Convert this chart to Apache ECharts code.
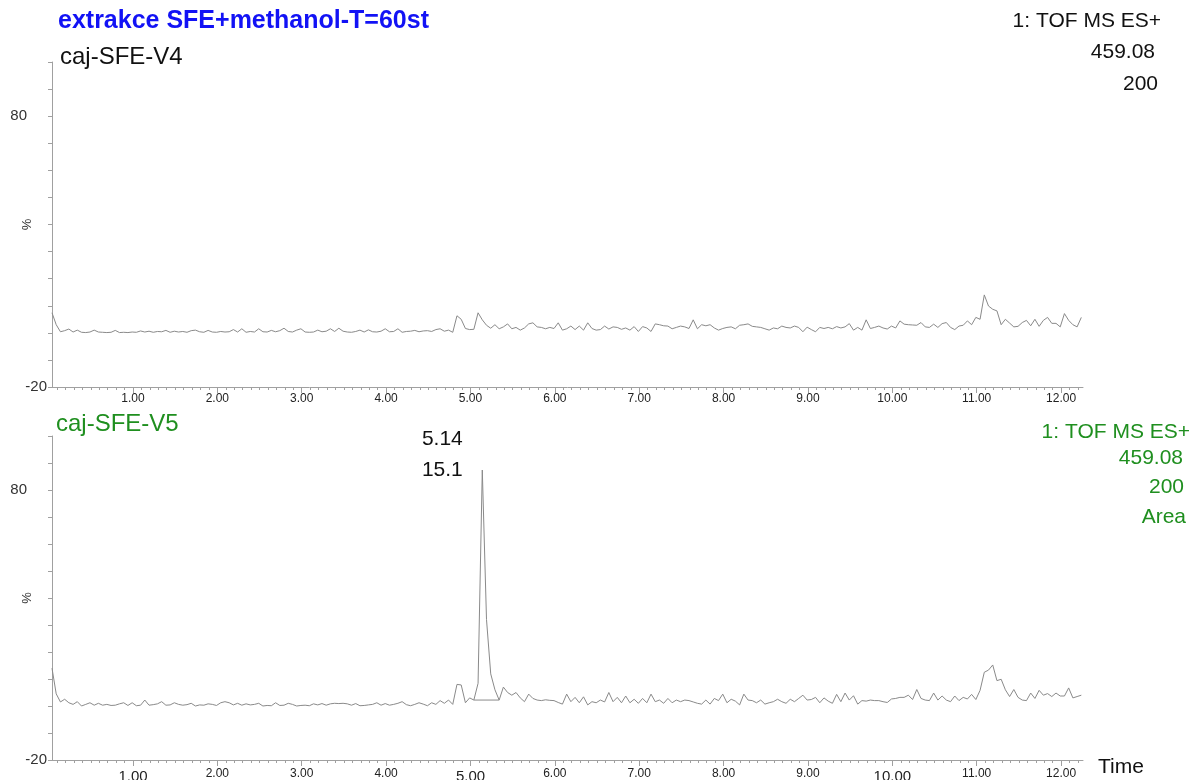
<!DOCTYPE html>
<html>
<head>
<meta charset="utf-8">
<title>extrakce SFE+methanol-T=60st</title>
<script src="https://cdn.jsdelivr.net/npm/echarts/dist/echarts.min.js"></script>
<style>
  html, body { margin: 0; padding: 0; background: #ffffff; }
  #chart { width: 1193px; height: 780px; }
</style>
</head>
<body>
<div id="chart"></div>
<script>
// Scan grid of the extracted ion chromatograms (min)
const scanStart = 0.04;
const scanStep = 0.05;

// caj-SFE-V4, m/z 459.08, relative intensity (%)
const signalV4 = [
  7.4, 3.0, 0.4, 0.8, 1.4, 0.3, 1.0, 0.2, 0.1, 0.3,
  1.0, 0.3, 0.2, 0.1, 0.2, 0.9, 0.1, 0.2, 0.1, 0.3,
  0.2, 0.7, 0.3, 0.6, 0.2, 0.5, 0.4, 0.9, 0.2, 0.6,
  0.3, 0.5, 0.2, 0.8, 1.0, 0.4, 0.2, 0.9, 0.3, 0.2,
  0.5, 0.3, 0.4, 1.2, 0.3, 1.5, 0.2, 0.5, 0.3, 1.5,
  0.4, 0.3, 0.9, 0.4, 0.8, 1.7, 0.5, 0.3, 1.0, 1.5,
  0.3, 0.2, 0.3, 1.0, 0.4, 0.6, 1.5, 0.5, 1.7, 0.6,
  0.3, 0.2, 0.5, 1.0, 0.3, 1.1, 0.4, 0.3, 0.6, 1.5,
  0.4, 0.5, 1.5, 0.2, 0.5, 0.6, 0.9, 0.4, 0.7, 0.8,
  0.5, 1.2, 1.5, 0.6, 1.0, 0.2, 6.3, 5.0, 1.6, 1.2,
  1.3, 7.4, 4.8, 2.8, 1.7, 3.0, 1.5, 2.2, 3.3, 1.5,
  2.0, 1.0, 1.8, 3.3, 3.7, 2.2, 2.0, 1.5, 2.0, 1.6,
  3.7, 1.0, 1.5, 2.5, 1.2, 2.5, 1.0, 3.7, 1.6, 1.0,
  1.2, 2.5, 1.4, 2.2, 2.0, 1.3, 1.8, 1.0, 2.3, 0.5,
  2.3, 1.8, 0.5, 3.3, 3.0, 2.6, 2.5, 1.5, 2.0, 2.5,
  2.2, 1.6, 4.8, 1.5, 3.0, 2.6, 3.0, 1.8, 1.0, 1.6,
  2.0, 2.2, 1.5, 2.8, 3.0, 3.3, 2.4, 2.2, 2.0, 1.5,
  1.0, 1.8, 1.5, 2.5, 2.0, 1.8, 2.5, 2.0, 0.4, 2.1,
  1.2, 0.4, 2.0, 1.6, 2.0, 1.5, 2.3, 1.8, 2.2, 3.4,
  1.0, 2.0, 1.0, 4.8, 1.6, 2.0, 2.5, 1.8, 1.4, 2.5,
  1.8, 4.4, 3.2, 3.0, 2.9, 2.8, 3.8, 2.2, 2.0, 3.2,
  2.0, 3.4, 3.8, 2.0, 1.2, 2.5, 2.8, 4.4, 3.0, 5.7,
  5.0, 14.0, 9.9, 8.7, 8.1, 3.0, 5.0, 3.6, 2.2, 2.4,
  3.8, 4.6, 2.6, 5.0, 2.4, 4.6, 5.7, 3.5, 3.5, 2.2,
  7.1, 4.6, 3.0, 2.2, 5.7
];

// caj-SFE-V5, m/z 459.08, relative intensity (%)
const signalV5 = [
  14.0, 4.5, 1.5, 2.5, 1.2, 0.6, 1.6, 0.0, 0.6, 1.2,
  0.3, 1.0, 0.3, 0.6, 0.2, 0.3, 0.8, 1.2, 0.2, 1.2,
  0.1, 0.3, 2.2, 0.3, 0.5, 0.8, 1.6, 0.3, 0.4, 1.2,
  0.6, 0.3, 0.5, 1.0, 0.0, 0.4, 0.3, 0.8, 0.6, 0.2,
  1.2, 1.6, 1.2, 0.4, 1.0, 0.3, 0.8, 0.4, 0.6, 1.0,
  0.0, 0.2, 0.1, 1.2, 0.2, 0.3, 1.0, 0.6, 0.0, 0.2,
  0.3, 0.1, 0.8, 0.4, 0.9, 0.3, 0.8, 1.0, 0.9, 1.0,
  0.8, 0.3, 0.9, 0.1, 0.2, 0.4, 0.6, 1.2, 0.3, 0.9,
  0.3, 0.6, 1.0, 1.6, 0.5, 0.1, 0.6, 1.2, 0.7, 0.1,
  1.2, 0.6, 2.0, 1.0, 2.2, 0.6, 8.0, 7.8, 1.2, 3.0,
  2.2, 8.4, 87.4, 32.0, 11.9, 6.0, 2.2, 7.0, 5.0, 4.0,
  5.0, 3.0, 1.6, 4.4, 2.8, 2.2, 2.0, 2.3, 2.1, 2.0,
  1.3, 0.7, 4.4, 1.6, 3.2, 1.2, 3.4, 0.4, 1.6, 1.2,
  2.2, 1.5, 5.0, 1.6, 3.2, 1.2, 3.7, 1.2, 2.5, 1.0,
  2.8, 1.2, 4.4, 1.6, 2.2, 1.0, 2.8, 1.2, 2.2, 1.6,
  2.2, 2.0, 1.5, 1.0, 0.7, 2.2, 0.7, 2.8, 2.0, 4.4,
  1.2, 2.5, 1.8, 0.4, 4.4, 2.2, 2.0, 1.2, 2.2, 0.7,
  1.2, 1.6, 2.5, 1.6, 1.0, 2.5, 1.6, 2.8, 4.0, 2.2,
  2.4, 3.2, 1.2, 3.0, 1.8, 1.0, 4.3, 1.6, 4.8, 2.2,
  3.8, 0.7, 2.0, 1.8, 2.2, 2.0, 2.0, 1.6, 1.3, 2.6,
  2.8, 3.2, 3.2, 4.0, 2.4, 6.1, 2.8, 2.2, 2.0, 4.8,
  2.2, 3.7, 2.2, 1.6, 3.7, 2.0, 3.2, 2.6, 4.3, 2.4,
  5.8, 12.5, 13.3, 15.2, 9.4, 9.9, 6.0, 3.5, 6.1, 3.2,
  2.2, 2.0, 4.8, 2.8, 5.8, 4.0, 4.6, 3.5, 4.8, 3.7,
  3.7, 6.7, 3.0, 3.5, 4.0
];

// Integrated peak in caj-SFE-V5: retention time (min) and area
const peakTime = 5.14;
const peakArea = 15.1;
const peakBaseline = [[5.04, 2.2], [5.34, 2.2]];

// Time axis: labelled major ticks and tenth-minute minor ticks
const timeMin = 0.04;
const timeMax = 12.26;
const majorTimeTicks = [1, 2, 3, 4, 5, 6, 7, 8, 9, 10, 11, 12];
const minorTimeTicks = [];
for (let k = 1; k <= 122; k++) minorTimeTicks.push(+(k / 10).toFixed(1));
const largeBottomLabels = [1, 5, 10];

// Intensity axis
const intensityMin = -20;
const intensityMax = 100;
const intensityStep = 10;
const intensityLabels = [80, -20];

const FONT = 'Liberation Sans, Arial, Helvetica, sans-serif';
const TRACE = '#8a8a8a';
const AXIS = '#a0a0a0';
const GREEN = '#1f8f1f';

function toPoints(values) {
  return values.map((v, i) => [+(scanStart + i * scanStep).toFixed(2), v]);
}

const pointsV4 = toPoints(signalV4);
const pointsV5 = toPoints(signalV5);
const peakPoint = pointsV5.find(p => Math.abs(p[0] - peakTime) < 1e-6);

function majorAxis(gridIndex, bottom) {
  return {
    type: 'value', gridIndex: gridIndex, position: 'bottom', min: timeMin, max: timeMax,
    axisLine: { show: true, onZero: false, lineStyle: { color: AXIS, width: 1 } },
    axisTick: { show: true, customValues: majorTimeTicks, length: 6, lineStyle: { color: AXIS } },
    axisLabel: {
      show: true, customValues: majorTimeTicks, margin: bottom ? 8 : 6,
      fontFamily: FONT, fontSize: 12, color: '#222',
      formatter: function (v) {
        const t = v.toFixed(2);
        return (bottom && largeBottomLabels.indexOf(v) >= 0) ? '{big|' + t + '}' : t;
      },
      rich: { big: { fontFamily: FONT, fontSize: 15, color: '#222', padding: [1, 0, 0, 0] } }
    },
    splitLine: { show: false }
  };
}

function minorAxis(gridIndex) {
  return {
    type: 'value', gridIndex: gridIndex, position: 'bottom', offset: 0,
    min: timeMin, max: timeMax,
    axisLine: { show: false, onZero: false },
    axisTick: { show: true, customValues: minorTimeTicks, length: 3, lineStyle: { color: AXIS } },
    axisLabel: { show: false },
    splitLine: { show: false }
  };
}

function intensityAxis(gridIndex) {
  return {
    type: 'value', gridIndex: gridIndex,
    min: intensityMin, max: intensityMax, interval: intensityStep,
    name: '%', nameLocation: 'middle', nameRotate: 90, nameGap: 18, nameMoveOverlap: false,
    nameTextStyle: { fontFamily: FONT, fontSize: 13, color: '#333' },
    axisLine: { show: true, onZero: false, lineStyle: { color: AXIS, width: 1 } },
    axisTick: { show: true, length: 4, lineStyle: { color: AXIS } },
    axisLabel: {
      margin: 5, fontFamily: FONT, fontSize: 15, color: '#333',
      formatter: function (v) {
        if (intensityLabels.indexOf(v) < 0) return '';
        return v > 0 ? '{far|' + v + '}' : String(v);
      },
      rich: { far: { fontFamily: FONT, fontSize: 15, color: '#333', padding: [0, 20, 0, 0] } }
    },
    splitLine: { show: false }
  };
}

function text(str, x, y, size, color, align, weight) {
  return {
    type: 'text', x: x, y: y, silent: true,
    style: {
      text: str, fill: color, font: (weight || 'normal') + ' ' + size + 'px ' + FONT,
      align: align || 'left', verticalAlign: 'middle'
    }
  };
}

const chart = echarts.init(document.getElementById('chart'), null, { renderer: 'canvas' });

chart.setOption({
  animation: false,
  backgroundColor: '#ffffff',
  grid: [
    { left: 52, top: 62, width: 1031, height: 325, containLabel: false, outerBoundsMode: 'none' },
    { left: 52, top: 436, width: 1031, height: 324, containLabel: false, outerBoundsMode: 'none' }
  ],
  xAxis: [majorAxis(0, false), minorAxis(0), majorAxis(1, true), minorAxis(1)],
  yAxis: [intensityAxis(0), intensityAxis(1)],
  series: [
    {
      name: 'caj-SFE-V4', type: 'line', xAxisIndex: 0, yAxisIndex: 0,
      data: pointsV4, showSymbol: false, symbol: 'none',
      lineStyle: { color: TRACE, width: 1 }
    },
    {
      name: 'caj-SFE-V5', type: 'line', xAxisIndex: 2, yAxisIndex: 1,
      data: pointsV5, showSymbol: false, symbol: 'none',
      lineStyle: { color: TRACE, width: 1 },
      markPoint: {
        symbol: 'rect', symbolSize: 1,
        itemStyle: { color: 'rgba(0,0,0,0)' },
        data: [{ coord: peakPoint }],
        label: {
          show: true, position: 'left', distance: 19, offset: [0, -15],
          align: 'right', fontFamily: FONT, fontSize: 21, lineHeight: 31, color: '#111',
          formatter: function () { return peakTime.toFixed(2) + '\n' + peakArea.toFixed(1); }
        }
      }
    },
    {
      name: 'peak baseline', type: 'line', xAxisIndex: 2, yAxisIndex: 1,
      data: peakBaseline, showSymbol: false, symbol: 'none',
      lineStyle: { color: TRACE, width: 1 }
    }
  ],
  graphic: [
    text('extrakce SFE+methanol-T=60st', 58, 21, 25, '#1212f5', 'left', 'bold'),
    text('caj-SFE-V4', 60, 57, 24, '#111'),
    text('1: TOF MS ES+', 1161, 21, 21, '#111', 'right'),
    text('459.08', 1155, 52, 21, '#111', 'right'),
    text('200', 1158, 84, 21, '#111', 'right'),
    text('caj-SFE-V5', 56, 424, 24, GREEN),
    text('1: TOF MS ES+', 1190, 432, 21, GREEN, 'right'),
    text('459.08', 1183, 458, 21, GREEN, 'right'),
    text('200', 1184, 487, 21, GREEN, 'right'),
    text('Area', 1186, 517, 21, GREEN, 'right'),
    text('Time', 1098, 767, 21, '#111')
  ]
});
</script>
</body>
</html>
